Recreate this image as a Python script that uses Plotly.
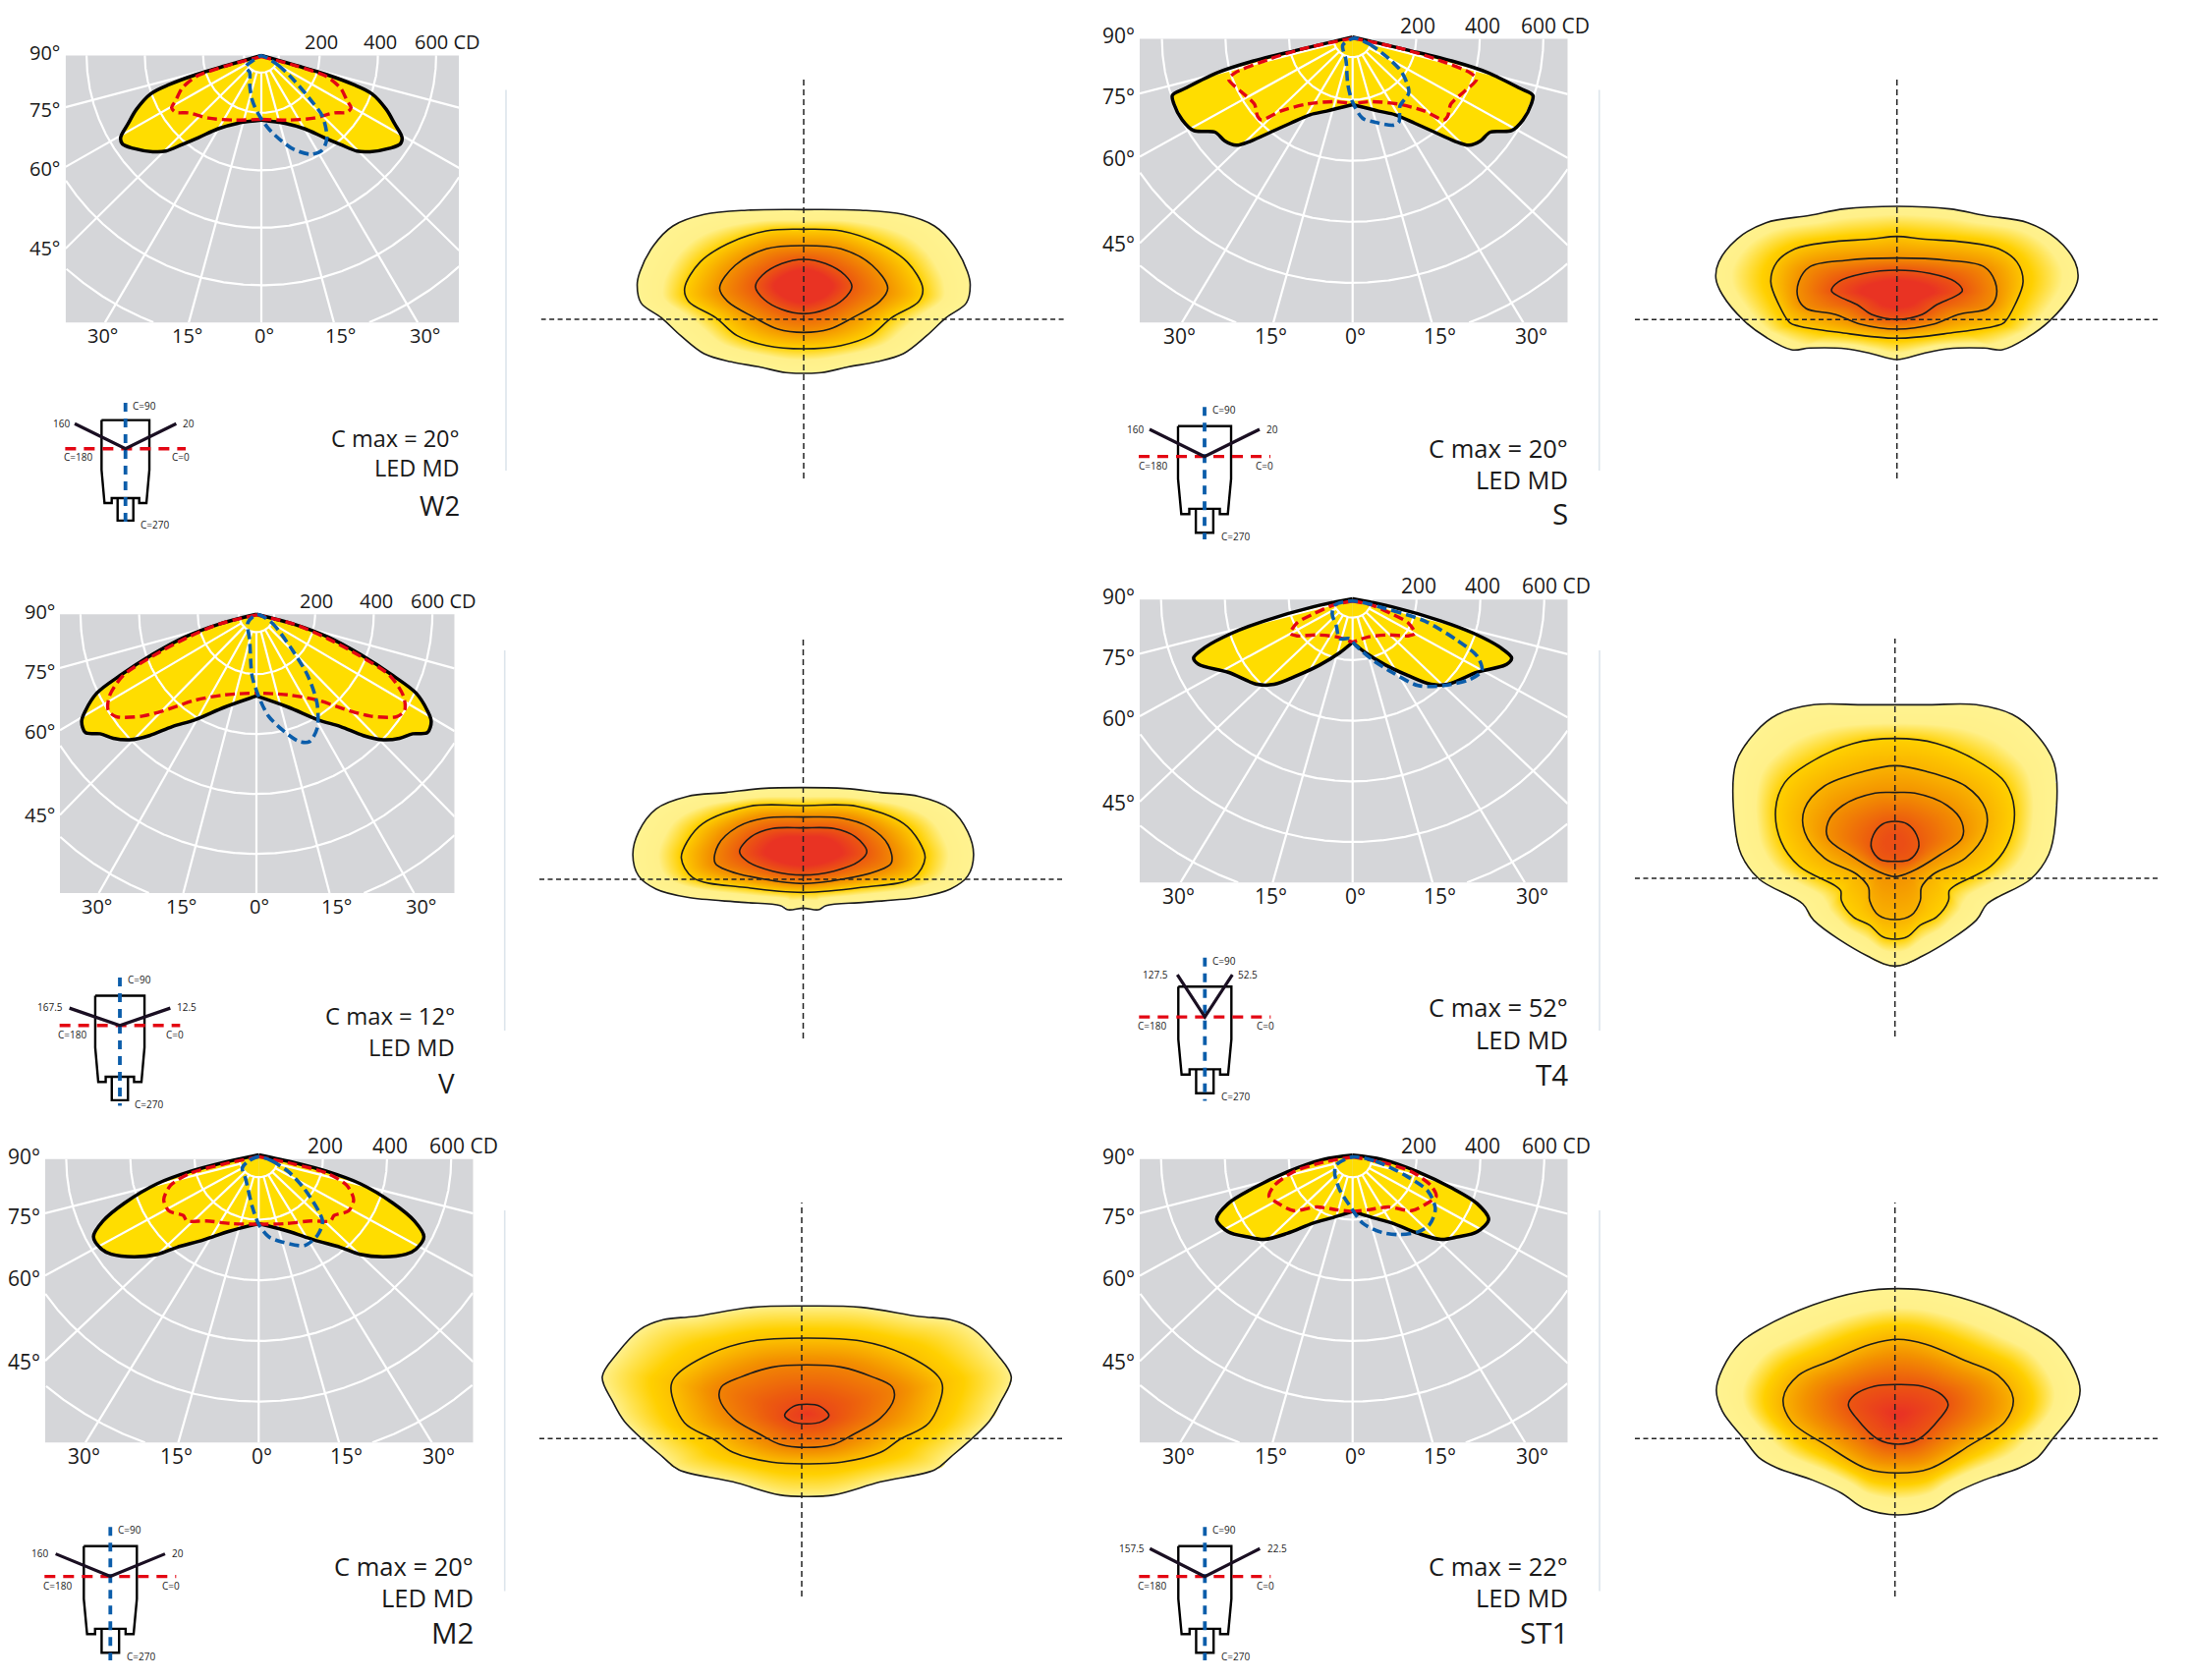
import numpy as np
import plotly.graph_objects as go

W, H = 2230, 1710
FONT = "Open Sans"

# ---------- polar diagrams: horizontal / downward intensity components in cd ----------
W2_BLACK_X = [0,112,225,315,379,429,457,483,477,441,373,328,272,216,148,81,0]
W2_BLACK_Y = [0,33,67,101,133,188,237,286,308,323,335,333,310,286,255,236,225]
W2_RED_X = [0,112,225,272,294,308,294,250,182,92,0]
W2_RED_Y = [4,34,74,114,157,182,198,200,218,225,222]
W2_BLUE_X = [0,58,115,171,210,225,210,171,115,70,25,-9,-31,-40,-40,-54,-26,0]
W2_BLUE_Y = [1,34,90,157,212,286,329,344,329,298,255,206,157,102,59,40,16,1]

S_BLACK_X = [0,165,320,423,526,567,562,536,500,433,402,366,320,258,196,134,82,0]
S_BLACK_Y = [-6,35,75,110,162,185,214,266,301,306,335,349,335,306,277,249,237,216]
S_RED_X = [0,165,268,371,390,351,309,299,287,227,144,62,0]
S_RED_Y = [-2,35,69,112,133,173,214,254,266,237,214,206,212]
S_BLUE_X = [5,52,113,155,177,149,146,129,72,31,0,-15,-21,-31,5]
S_BLUE_Y = [-2,17,64,110,176,220,272,283,274,260,208,150,69,21,-2]

V_BLACK_X = [0,131,242,354,466,544,583,596,583,533,488,432,365,287,209,108,0]
V_BLACK_Y = [0,34,75,134,205,263,322,358,395,399,414,419,405,375,352,310,273]
V_RED_X = [0,131,242,354,455,502,505,477,388,298,209,108,0]
V_RED_Y = [2,34,81,140,205,275,322,342,340,316,287,269,263]
V_BLUE_X = [2,52,120,175,207,207,181,147,97,41,8,-15,-23,-29,2]
V_BLUE_Y = [1,28,116,205,299,381,425,425,393,340,275,205,87,28,1]

T4_BLACK_X = [0,123,277,380,462,498,482,390,298,246,174,103,41,0]
T4_BLACK_Y = [-2,24,71,112,158,193,214,240,280,280,251,216,176,141]
T4_RED_X = [0,62,123,174,195,174,113,51,0]
T4_RED_Y = [5,19,48,77,112,120,117,123,141]
T4_BLUE_X = [0,123,226,328,390,405,369,287,205,123,62,10,-10,-41,-51,-64,-56,0]
T4_BLUE_Y = [5,36,71,135,187,234,263,284,284,240,199,152,129,129,88,48,19,5]

M2_BLACK_X = [0,112,214,316,418,485,515,490,459,388,316,255,173,92,0]
M2_BLACK_Y = [-14,12,41,81,145,204,256,297,314,322,314,291,267,238,213]
M2_RED_X = [0,112,214,275,296,280,235,224,163,82,0]
M2_RED_Y = [-8,17,47,87,134,171,186,204,204,213,215]
M2_BLUE_X = [0,41,92,143,199,184,143,71,31,0,-20,-41,-51,-31,0]
M2_BLUE_Y = [-8,6,41,99,204,250,285,273,256,215,157,64,29,6,-8]

ST1_BLACK_X = [0,92,205,308,390,426,390,328,277,205,123,62,0]
ST1_BLACK_Y = [-13,1,42,94,147,199,240,257,265,245,211,193,173]
ST1_RED_X = [0,103,185,246,262,241,185,113,51,0]
ST1_RED_Y = [-7,13,42,88,123,141,170,158,167,173]
ST1_BLUE_X = [0,72,164,236,259,241,205,144,92,31,-10,-41,-56,-51,0]
ST1_BLUE_Y = [-7,7,53,106,164,216,240,249,242,211,152,100,48,19,-7]

RING_CD = [60,200,400,600,800,1000,1200,1400]
SPOKE_DEG = [-75,-60,-45,-30,-15,0,15,30,45,60,75]
CD_TICKS = ["200","400","600 CD"]
GAMMA_LEFT = ["90°","75°","60°","45°"]
GAMMA_BOTTOM = ["30°","15°","0°","15°","30°"]

# ---------- isolux maps: right half of each contour (x, y in mounting heights) ----------
W2_C1_X = [0,1.46,2.56,3.36,3.86,4.21,4.28,4.18,3.66,3.16,2.56,1.86,1.16,.46,0]
W2_C1_Y = [3.35,3.33,3.2,2.85,2.25,1.45,1.05,.5,.05,-.5,-1.05,-1.3,-1.45,-1.63,-1.65]
W2_C2_X = [0,.96,1.96,2.66,3.06,2.96,2.26,1.71,.96,0]
W2_C2_Y = [2.75,2.7,2.3,1.75,.95,.55,.05,-.5,-.8,-.9]
W2_C3_X = [0,.96,1.76,2.16,1.96,1.26,.66,0]
W2_C3_Y = [2.25,2.15,1.65,.95,.55,.05,-.3,-.4]
W2_C4_X = [0,.56,1.06,1.24,1.01,.56,0]
W2_C4_Y = [1.83,1.7,1.35,1.0,.6,.3,.17]

S_C1_X = [0,1.45,2.4,3.6,4.4,4.9,4.98,4.8,4.2,3.6,2.9,2.4,1.4,.7,0]
S_C1_Y = [3.46,3.38,3.18,2.96,2.46,1.76,1.26,.76,-.04,-.54,-.92,-.87,-.89,-1.04,-1.22]
S_C2_X = [0,.7,1.9,2.8,3.3,3.47,3.25,2.95,2.7,1.6,0]
S_C2_Y = [2.54,2.46,2.36,2.16,1.76,1.16,.46,-.09,-.2,-.39,-.57]
S_C3_X = [0,1.4,2.4,2.7,2.72,2.5,1.7,1.0,0]
S_C3_Y = [1.88,1.81,1.61,1.16,.66,.34,.16,-.14,-.29]
S_C4_X = [0,.9,1.6,1.8,1.6,1.1,.7,0]
S_C4_Y = [1.51,1.41,1.16,.88,.71,.46,.16,.01]

V_C1_X = [0,1.09,1.99,2.99,3.79,4.24,4.39,4.24,3.79,2.99,1.59,.59,.39,0]
V_C1_Y = [2.8,2.77,2.65,2.53,2.15,1.45,.75,.1,-.3,-.55,-.7,-.8,-.93,-.88]
V_C2_X = [0,1.39,2.59,2.99,3.14,2.84,1.49,0]
V_C2_Y = [2.25,2.23,1.7,1.15,.65,.05,-.25,-.4]
V_C3_X = [0,.99,1.69,2.19,2.27,1.89,.99,0]
V_C3_Y = [1.9,1.87,1.6,1.05,.5,.25,0,-.13]
V_C4_X = [0,.79,1.34,1.64,1.44,.79,0]
V_C4_Y = [1.57,1.55,1.3,.85,.55,.25,.13]

T4_C1_X = [0,.95,2.25,3.25,3.85,4.4,4.43,4.25,3.75,2.55,2.25,.75,0]
T4_C1_Y = [5.3,5.3,5.3,5.0,4.47,3.52,1.62,.72,-.03,-.78,-1.28,-2.38,-2.68]
T4_C2_X = [0,1.15,2.45,3.05,3.3,3.15,2.65,1.65,1.5,1.48,1.15,.7,.35,0]
T4_C2_Y = [4.27,4.12,3.47,2.92,2.12,1.12,.37,-.23,-.38,-.68,-1.18,-1.43,-1.78,-1.86]
T4_C3_X = [0,.85,1.95,2.5,2.5,1.95,1.05,.73,.7,.45,0]
T4_C3_Y = [3.44,3.27,2.82,2.12,1.42,.62,.12,-.28,-.68,-1.13,-1.26]
T4_C4_X = [0,.55,1.45,1.85,1.85,1.25,.45,0]
T4_C4_Y = [2.62,2.6,2.22,1.72,1.22,.72,.2,.05]
T4_C5_X = [0,.35,.6,.65,.4,0]
T4_C5_Y = [1.74,1.65,1.32,.92,.57,.52]

M2_C1_X = [0,1.4,2.9,3.7,4.3,4.9,5.27,5.0,4.7,3.7,3.3,1.9,.7,0]
M2_C1_Y = [4.05,4.01,3.73,3.63,3.33,2.58,1.88,1.13,.53,-.57,-.95,-1.32,-1.72,-1.77]
M2_C2_X = [0,1.4,2.5,3.4,3.5,3.15,2.4,1.9,.9,0]
M2_C2_Y = [3.07,2.98,2.58,1.88,1.53,.48,-.02,-.42,-.72,-.77]
M2_C3_X = [0,.9,1.7,2.2,2.25,1.9,1.2,.7,0]
M2_C3_Y = [2.25,2.18,1.88,1.58,1.23,.63,.13,-.17,-.27]
M2_C4_X = [0,.35,.57,.4,0]
M2_C4_Y = [1.05,.98,.71,.53,.45]

ST1_C1_X = [0,1.06,2.36,3.76,4.36,4.86,5.03,4.86,4.26,3.86,3.36,2.36,1.56,.96,0]
ST1_C1_Y = [4.58,4.48,4.08,3.38,2.93,2.13,1.48,.83,-.02,-.57,-.89,-1.27,-1.67,-2.12,-2.33]
ST1_C2_X = [0,.76,1.86,2.76,3.18,2.96,1.96,.86,0]
ST1_C2_Y = [3.03,2.88,2.38,1.93,1.23,.53,-.22,-.92,-1.05]
ST1_C3_X = [0,.66,1.21,1.38,1.16,.56,0]
ST1_C3_Y = [1.65,1.6,1.33,1.03,.63,-.02,-.17]

COLOR_STOPS = [[0,"#FFF390"],[.16,"#FFF08A"],[.3,"#FFD000"],[.55,"#F39200"],[.8,"#EC5A0F"],[1,"#E93323"]]

# ---------- luminaire schematic outline (schematic units, crossing point at origin) ----------
BODY_X = [-24,-24,24,24,None,-73,73,73,70,64,42,42,-42,-42,-64,-70,-73,-73]
BODY_Y = [140,204,204,140,None,-81,-81,60,100,154,154,140,140,154,154,100,60,-81]

# ---------- panel layout ----------
PANELS = [
 dict(key="W2", name="W2", cmax="C max = 20°", rect=(66.7,467.3,56.4,328.4), cx=266, sx=59.3, sy=58.5, fs=20, fsb=23.5,
      black=(W2_BLACK_X,W2_BLACK_Y), red=(W2_RED_X,W2_RED_Y), blue=(W2_BLUE_X,W2_BLUE_Y),
      text_y=(445.7,476,514),
      cross=(127.7,456.7), body=(1,1), red_x=184, blue_y=(-130,222), beam=(155,-71),
      labels=[("C=90",17,-123,"left"),("160",-165,-73,"right"),("20",169,-73,"left"),("C=180",-146,24,"center"),("C=0",170,24,"center"),("C=270",40,214,"left")],
      div=(515,91.5,479),
      heat=dict(c=(818,325), h=(550.6,1083), v=(79,487), ux=39.6, cs=[(W2_C1_X,W2_C1_Y),(W2_C2_X,W2_C2_Y),(W2_C3_X,W2_C3_Y),(W2_C4_X,W2_C4_Y)], lv=[0,.3,.55,.8], pk=(0,1.0), top=1.0, core=.4, x0=0)),
 dict(key="S", name="S", cmax="C max = 20°", rect=(1160,1595.7,39.5,328.4), cx=1376.7, sx=64.7, sy=62.1, fs=21, fsb=25.5,
      black=(S_BLACK_X,S_BLACK_Y), red=(S_RED_X,S_RED_Y), blue=(S_BLUE_X,S_BLUE_Y),
      text_y=(456,488,522),
      cross=(1226,464.6), body=(1.11,1.06), red_x=201, blue_y=(-140,235), beam=(168,-77),
      labels=[("C=90",19,-132,"left"),("160",-180,-78,"right"),("20",182,-78,"left"),("C=180",-158,26,"center"),("C=0",184,26,"center"),("C=270",44,227,"left")],
      div=(1627.7,91.5,479),
      heat=dict(c=(1930.7,325.3), h=(1664,2197), v=(80,487), ux=37, cs=[(S_C1_X,S_C1_Y),(S_C2_X,S_C2_Y),(S_C3_X,S_C3_Y),(S_C4_X,S_C4_Y)], lv=[.09,.34,.56,.82], pk=(0,.8), top=1.0, core=.45, x0=0)),
 dict(key="V", name="V", cmax="C max = 12°", rect=(61,462.7,625.2,909.1), cx=261, sx=59.7, sy=61, fs=20, fsb=23.8,
      black=(V_BLACK_X,V_BLACK_Y), red=(V_RED_X,V_RED_Y), blue=(V_BLUE_X,V_BLUE_Y),
      text_y=(1033.6,1065.9,1102),
      cross=(122,1043.7), body=(1.03,1.04), red_x=184, blue_y=(-136,228), beam=(154,-49),
      labels=[("C=90",17,-129,"left"),("167.5",-168,-52,"right"),("12.5",169,-52,"left"),("C=180",-147,25,"center"),("C=0",169,25,"center"),("C=270",39,223,"left")],
      div=(513.7,662,1049),
      heat=dict(c=(817.5,895), h=(549,1083), v=(650,1057), ux=39.5, cs=[(V_C1_X,V_C1_Y),(V_C2_X,V_C2_Y),(V_C3_X,V_C3_Y),(V_C4_X,V_C4_Y)], lv=[0,.31,.6,.8], pk=(0,.85), top=1.0, core=.4, x0=0)),
 dict(key="T4", name="T4", cmax="C max = 52°", rect=(1160,1595.7,610.2,898.4), cx=1376.7, sx=65, sy=61.7, fs=21, fsb=25.5,
      black=(T4_BLACK_X,T4_BLACK_Y), red=(T4_RED_X,T4_RED_Y), blue=(T4_BLUE_X,T4_BLUE_Y),
      text_y=(1025,1058,1093),
      cross=(1226.3,1035.1), body=(1.11,1.06), red_x=201, blue_y=(-168,238), beam=(84,-120),
      labels=[("C=90",18,-160,"left"),("127.5",-105,-121,"right"),("52.5",96,-121,"left"),("C=180",-160,26,"center"),("C=0",184,26,"center"),("C=270",43,226,"left")],
      div=(1628,662,1049),
      heat=dict(c=(1928.7,894), h=(1664,2197), v=(650,1055), ux=36.8, cs=[(T4_C1_X,T4_C1_Y),(T4_C2_X,T4_C2_Y),(T4_C3_X,T4_C3_Y),(T4_C4_X,T4_C4_Y),(T4_C5_X,T4_C5_Y)], lv=[0,.3,.42,.55,.8], pk=(0,1.12), top=.86, core=.6, x0=0)),
 dict(key="M2", name="M2", cmax="C max = 20°", rect=(46,481.7,1179.8,1468.4), cx=263.3, sx=65.3, sy=61.7, fs=21, fsb=25.5,
      black=(M2_BLACK_X,M2_BLACK_Y), red=(M2_RED_X,M2_RED_Y), blue=(M2_BLUE_X,M2_BLUE_Y),
      text_y=(1594,1626,1661),
      cross=(112.3,1604.6), body=(1.11,1.06), red_x=201, blue_y=(-140,238), beam=(167,-64),
      labels=[("C=90",18,-132,"left"),("160",-184,-65,"right"),("20",183,-65,"left"),("C=180",-160,26,"center"),("C=0",184,26,"center"),("C=270",43,226,"left")],
      div=(513.7,1232,1619.5),
      heat=dict(c=(816,1464.3), h=(549,1083), v=(1224,1625), ux=39.5, cs=[(M2_C1_X,M2_C1_Y),(M2_C2_X,M2_C2_Y),(M2_C3_X,M2_C3_Y),(M2_C4_X,M2_C4_Y)], lv=[.16,.36,.62,.88], pk=(0,.78), top=.97, core=1.0, x0=.13)),
 dict(key="ST1", name="ST1", cmax="C max = 22°", rect=(1160,1595.7,1179.8,1468.4), cx=1376.7, sx=65, sy=61.7, fs=21, fsb=25.5,
      black=(ST1_BLACK_X,ST1_BLACK_Y), red=(ST1_RED_X,ST1_RED_Y), blue=(ST1_BLUE_X,ST1_BLUE_Y),
      text_y=(1594,1626,1661),
      cross=(1226.3,1604.6), body=(1.11,1.06), red_x=201, blue_y=(-140,238), beam=(168,-79),
      labels=[("C=90",18,-132,"left"),("157.5",-177,-79,"right"),("22.5",184,-79,"left"),("C=180",-160,26,"center"),("C=0",184,26,"center"),("C=270",43,226,"left")],
      div=(1628,1232,1619.5),
      heat=dict(c=(1928.7,1464.3), h=(1664,2197), v=(1224,1625), ux=36.8, cs=[(ST1_C1_X,ST1_C1_Y),(ST1_C2_X,ST1_C2_Y),(ST1_C3_X,ST1_C3_Y)], lv=[0,.42,.82], pk=(0,.73), top=1.0, core=.9, x0=.09)),
]

GRAY, YELLOW, RED, BLUE, DARK = "#D5D6D9", "#FFDD00", "#E30613", "#0B5DAA", "#111111"
GAMMA_LEFT_POS = [-.05,.95,1.96,3.35]
GAMMA_BOTTOM_POS = [-2.72,-1.28,.05,1.365,2.81]
CD_POS = [1.03,2.04,3.19]

fig = go.Figure()
axes, annotations, shapes = {}, [], []
axis_no = [0]


def px(x):
    return x / W


def py(y):
    return 1 - y / H


def new_axes(xdom, ydom, xrange, yrange):
    axis_no[0] += 1
    n = axis_no[0]
    base = dict(visible=False, fixedrange=True, showgrid=False, zeroline=False, autorange=False)
    axes[f"xaxis{n}"] = dict(base, domain=[px(xdom[0]), px(xdom[1])], range=list(xrange), anchor=f"y{n}")
    axes[f"yaxis{n}"] = dict(base, domain=[py(ydom[1]), py(ydom[0])], range=list(yrange), anchor=f"x{n}")
    return f"x{n}", f"y{n}"


def text(x, y, s, size, anchor="center", color="#1a1a1a"):
    annotations.append(dict(x=px(x), y=py(y), xref="paper", yref="paper", text=s, showarrow=False,
                            xanchor=anchor, yanchor="middle",
                            font=dict(family=FONT, size=size, color=color)))


def mirrored(xs, ys):
    xs, ys = list(xs), list(ys)
    return xs + [-v for v in xs[-2::-1]], ys + ys[-2::-1]


def polar_panel(p):
    xl, xr, yt, yb = p["rect"]
    cx, sx, sy = p["cx"], p["sx"], p["sy"]
    pad = 20.0
    xmin, xmax = (xl - cx) / sx * 200, (xr - cx) / sx * 200
    ybot = (yb - yt) / sy * 200
    xa, ya = new_axes((xl, xr), (yt - pad * sy / 200, yb), (xmin, xmax), (ybot, -pad))
    shapes.append(dict(type="rect", xref=xa, yref=ya, x0=xmin, x1=xmax, y0=0, y1=ybot,
                       fillcolor=GRAY, line_width=0, layer="below"))
    bx, by = p["black"]
    rx, ry = p["red"]
    kw = dict(xaxis=xa, yaxis=ya, hoverinfo="skip", showlegend=False, mode="lines")
    for sgn in (1, -1):
        fig.add_trace(go.Scatter(x=[sgn * v for v in bx], y=by, fill="toself", fillcolor=YELLOW,
                                 line=dict(width=0, shape="spline", smoothing=.9), **kw))
    gx, gy = [], []
    th = np.radians(np.arange(-90, 90.01, .25))
    for r in RING_CD:
        xx, yy = r * np.sin(th), r * np.cos(th)
        ok = (xx >= xmin) & (xx <= xmax) & (yy <= ybot)
        xx = np.where(ok, xx, np.nan)
        yy = np.where(ok, yy, np.nan)
        gx += list(xx) + [np.nan]
        gy += list(yy) + [np.nan]
    for a in SPOKE_DEG:
        t = np.radians(a)
        lim = ybot / np.cos(t)
        if np.sin(t) > 0:
            lim = min(lim, xmax / np.sin(t))
        elif np.sin(t) < 0:
            lim = min(lim, xmin / np.sin(t))
        gx += [RING_CD[0] * np.sin(t), lim * np.sin(t), np.nan]
        gy += [RING_CD[0] * np.cos(t), lim * np.cos(t), np.nan]
    fig.add_trace(go.Scatter(x=gx, y=gy, line=dict(color="white", width=2.2), **kw))
    for sgn in (1, -1):
        fig.add_trace(go.Scatter(x=[sgn * v for v in bx], y=by,
                                 line=dict(color="#000000", width=3.5, shape="spline", smoothing=.9), **kw))
    for sgn in (1, -1):
        fig.add_trace(go.Scatter(x=[sgn * v for v in rx], y=ry,
                                 line=dict(color=RED, width=3.4, dash="10px,5px", shape="spline", smoothing=.8), **kw))
    fig.add_trace(go.Scatter(x=p["blue"][0], y=p["blue"][1],
                             line=dict(color=BLUE, width=3.6, dash="10px,5px", shape="spline", smoothing=.8), **kw))
    # texts
    for s, m in zip(CD_TICKS, CD_POS):
        text(cx + m * sx, yt - 14, s, p["fs"])
    for s, m in zip(GAMMA_LEFT, GAMMA_LEFT_POS):
        text(xl - 3.5, yt + m * sy, s, p["fs"], "right")
    for s, m in zip(GAMMA_BOTTOM, GAMMA_BOTTOM_POS):
        text(cx + m * sx, yb + 13.5, s, p["fs"])
    t1, t2, t3 = p["text_y"]
    text(xr + 2.5, t1, p["cmax"], p["fsb"], "right")
    text(xr + 2.5, t2, "LED MD", p["fsb"], "right")
    text(xr + 2.5, t3, p["name"], p["fsb"] + 4, "right")


def schematic(p):
    cx, cy = p["cross"]
    ux, uy = 3.0, 2.786
    xa, ya = new_axes((cx - 260 / ux, cx + 260 / ux), (cy - 200 / uy, cy + 260 / uy), (-260, 260), (260, -200))
    fx, fy = p["body"]
    kw = dict(xaxis=xa, yaxis=ya, hoverinfo="skip", showlegend=False, mode="lines")
    bxs = [None if v is None else v * fx for v in BODY_X]
    bys = [None if v is None else v * fy for v in BODY_Y]
    fig.add_trace(go.Scatter(x=bxs, y=bys, line=dict(color="#000000", width=2.4), **kw))
    fig.add_trace(go.Scatter(x=[-p["red_x"], p["red_x"]], y=[0, 0],
                             line=dict(color=RED, width=3.4, dash="11px,8px"), **kw))
    fig.add_trace(go.Scatter(x=[0, 0], y=list(p["blue_y"]),
                             line=dict(color=BLUE, width=3.8, dash="9px,7px"), **kw))
    tx, ty = p["beam"]
    fig.add_trace(go.Scatter(x=[-tx, 0, tx], y=[ty, 0, ty],
                             line=dict(color="#1a0f22", width=3.2), **kw))
    for s, dx, dy, anch in p["labels"]:
        annotations.append(dict(x=dx, y=dy, xref=xa, yref=ya, text=s, showarrow=False, xanchor=anch,
                                yanchor="middle", font=dict(family=FONT, size=10, color="#222222")))


def catmull(xs, ys, n=10):
    pts = np.column_stack([xs, ys])
    pts = pts[:-1]
    m = len(pts)
    out = []
    for i in range(m):
        p0, p1, p2, p3 = pts[(i - 1) % m], pts[i], pts[(i + 1) % m], pts[(i + 2) % m]
        for t in np.linspace(0, 1, n, endpoint=False):
            out.append(.5 * (2 * p1 + (p2 - p0) * t + (2 * p0 - 5 * p1 + 4 * p2 - p3) * t * t
                             + (3 * p1 - p0 - 3 * p2 + p3) * t ** 3))
    return np.array(out)


def radial(poly, pk, theta):
    a = np.arctan2(poly[:, 1] - pk[1], poly[:, 0] - pk[0])
    r = np.hypot(poly[:, 0] - pk[0], poly[:, 1] - pk[1])
    o = np.argsort(a)
    return np.interp(theta, a[o], r[o], period=2 * np.pi)


def heat_panel(p):
    h = p["heat"]
    cx, cy = h["c"]
    ux, uy = h["ux"], 100 / 3
    x0 = h["x0"]
    xr = ((h["h"][0] - cx) / ux, (h["h"][1] - cx) / ux)
    yr = ((cy - h["v"][1]) / uy, (cy - h["v"][0]) / uy)
    xa, ya = new_axes(h["h"], h["v"], xr, yr)
    kw = dict(xaxis=xa, yaxis=ya, hoverinfo="skip", showlegend=False, mode="lines")
    loops = [mirrored(cxs, cys) for cxs, cys in h["cs"]]
    loops = [([v + x0 for v in a], b) for a, b in loops]
    pk = (h["pk"][0] + x0, h["pk"][1])
    outer = catmull(*loops[0])
    gx = np.arange(outer[:, 0].min() - .05, outer[:, 0].max() + .05, 1 / ux)
    gy = np.arange(outer[:, 1].min() - .05, outer[:, 1].max() + .05, 1 / uy)
    X, Y = np.meshgrid(gx, gy)
    TH = np.arctan2(Y - pk[1], X - pk[0])
    R = np.hypot(X - pk[0], Y - pk[1])
    rs = [radial(catmull(*lp), pk, TH) for lp in loops]
    lv = h["lv"]
    Z = np.full(X.shape, np.nan)
    for k in range(len(rs) - 1):
        ok = (R <= rs[k]) & (R > rs[k + 1])
        frac = (rs[k] - R) / np.maximum(rs[k] - rs[k + 1], 1e-6)
        Z = np.where(ok, lv[k] + frac * (lv[k + 1] - lv[k]), Z)
    ok = R <= rs[-1]
    frac = np.clip((rs[-1] - R) / (h["core"] * rs[-1]), 0, 1)
    Z = np.where(ok, lv[-1] + frac * (h["top"] - lv[-1]), Z)
    fig.add_trace(go.Heatmap(x=gx, y=gy, z=Z, zmin=0, zmax=1, colorscale=COLOR_STOPS, showscale=False,
                             xaxis=xa, yaxis=ya, hoverinfo="skip", zsmooth=False))
    for a, b in loops:
        fig.add_trace(go.Scatter(x=a, y=b, line=dict(color="#1c1c1c", width=1.6, shape="spline", smoothing=1), **kw))
    fig.add_trace(go.Scatter(x=list(xr), y=[0, 0], line=dict(color="#222222", width=1.5, dash="5px,3.5px"), **kw))
    fig.add_trace(go.Scatter(x=[0, 0], y=list(yr), line=dict(color="#222222", width=1.5, dash="6px,4px"), **kw))


for p in PANELS:
    polar_panel(p)
    schematic(p)
    heat_panel(p)
    dx, d0, d1 = p["div"]
    shapes.append(dict(type="line", xref="paper", yref="paper", x0=px(dx), x1=px(dx), y0=py(d0), y1=py(d1),
                       line=dict(color="#DDE5EC", width=1.6)))

fig.update_layout(width=W, height=H, margin=dict(l=0, r=0, t=0, b=0), paper_bgcolor="white",
                  plot_bgcolor="rgba(0,0,0,0)", showlegend=False, annotations=annotations, shapes=shapes,
                  **axes)
fig.write_html("out.html", config=dict(displayModeBar=False),
               post_script="document.body.style.margin='0';")
